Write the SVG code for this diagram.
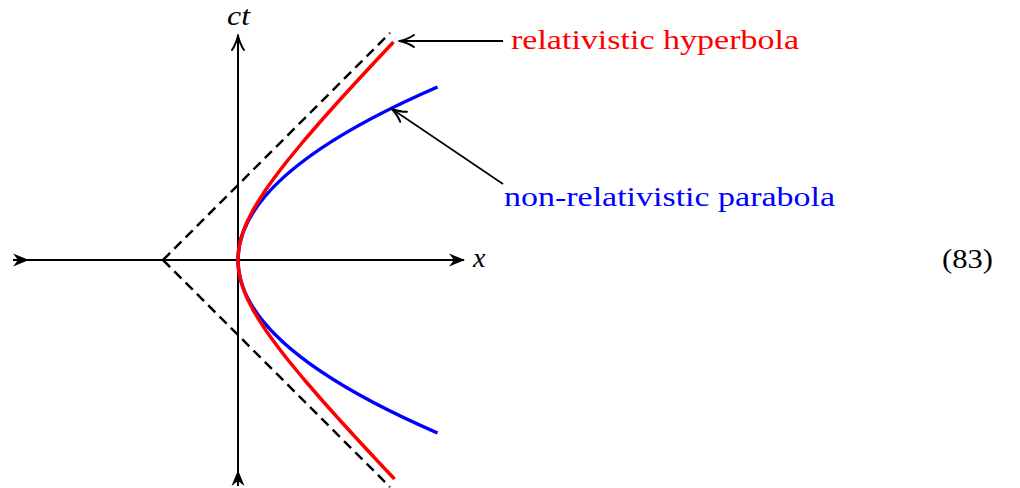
<svg xmlns="http://www.w3.org/2000/svg" width="1020" height="488" viewBox="0 0 1020 488">
<style>
.axis{stroke:#000;stroke-width:2;fill:none}
.dash{stroke:#000;stroke-width:2.5;fill:none;stroke-dasharray:10 6}
.hyp{stroke:#f00;stroke-width:3.5;fill:none;stroke-linejoin:round}
.par{stroke:#00f;stroke-width:3.5;fill:none}
.ann{stroke:#000;fill:none}
.lbl{font-family:"Liberation Serif","Times New Roman",serif;font-size:28px}
.math{font-family:"Liberation Serif","Times New Roman",serif;font-size:28px;font-style:italic}
</style>
<defs>
<marker id="stealth" viewBox="-18 -8 20 16" markerWidth="20" markerHeight="16" refX="0" refY="0" orient="auto" markerUnits="userSpaceOnUse">
<path d="M1,0 L-15,-6.5 L-10,0 L-15,6.5 Z" fill="#000"/>
</marker>
<marker id="stealthTail" viewBox="-18 -8 20 16" markerWidth="20" markerHeight="16" refX="-15" refY="0" orient="auto" markerUnits="userSpaceOnUse">
<path d="M1,0 L-15,-6.5 L-10,0 L-15,6.5 Z" fill="#000"/>
</marker>
<marker id="to" viewBox="-16 -8 18 16" markerWidth="18" markerHeight="16" refX="0" refY="0" orient="auto" markerUnits="userSpaceOnUse">
<path d="M-14,-6 C-9,-2.5 -3,-0.8 0,0 C-3,0.8 -9,2.5 -14,6" fill="none" stroke="#000" stroke-width="2" stroke-linecap="round"/>
</marker>
</defs>
<g id="axes">
<path id="x-axis" class="axis" d="M13,260 L464,260" marker-start="url(#stealthTail)" marker-end="url(#stealth)"/>
<path id="ct-axis" class="axis" d="M238,486 L238,36" marker-start="url(#stealthTail)" marker-end="url(#to)"/>
</g>
<g id="asymptotes">
<path class="dash" d="M163,260 L390,33"/>
<path class="dash" d="M163,260 L390,487"/>
</g>
<g id="parabola">
<path class="par" d="M437.5,433 Q38.5,260 437.5,87"/>
</g>
<g id="hyperbola">
<polyline class="hyp" points="393.5,42 376.6,60 358,80 339.7,100 321.8,120 304.5,140 288,160 280.2,170 272.7,180 265.6,190 259.1,200 253.1,210 248,220 245.7,225 243.8,230 242.1,235 240.6,240 239.5,245 238.7,250 238.2,255 238,260 238.2,265 238.7,270 239.5,275 240.6,280 242.1,285 243.8,290 245.7,295 248,300 253.1,310 259.1,320 265.6,330 272.7,340 280.2,350 288,360 304.5,380 321.8,400 339.7,420 358,440 376.6,460 394.5,479"/>
</g>
<g id="connectors">
<path class="ann" stroke-width="2" d="M503,41 L400,41" marker-end="url(#to)"/>
<path class="ann" stroke-width="1.6" d="M503,184 L392,109" marker-end="url(#to)"/>
</g>
<g id="labels">
<text class="math" x="227" y="25" textLength="23" lengthAdjust="spacingAndGlyphs">ct</text>
<text class="math" x="473" y="267">x</text>
<text id="hyperbola-label" class="lbl" x="511" y="49" fill="#f00" textLength="288" lengthAdjust="spacingAndGlyphs">relativistic hyperbola</text>
<text id="parabola-label" class="lbl" x="504" y="206" fill="#00f" textLength="331" lengthAdjust="spacingAndGlyphs">non-relativistic parabola</text>
<text class="lbl" x="942" y="268" textLength="51" lengthAdjust="spacingAndGlyphs">(83)</text>
</g>
</svg>
